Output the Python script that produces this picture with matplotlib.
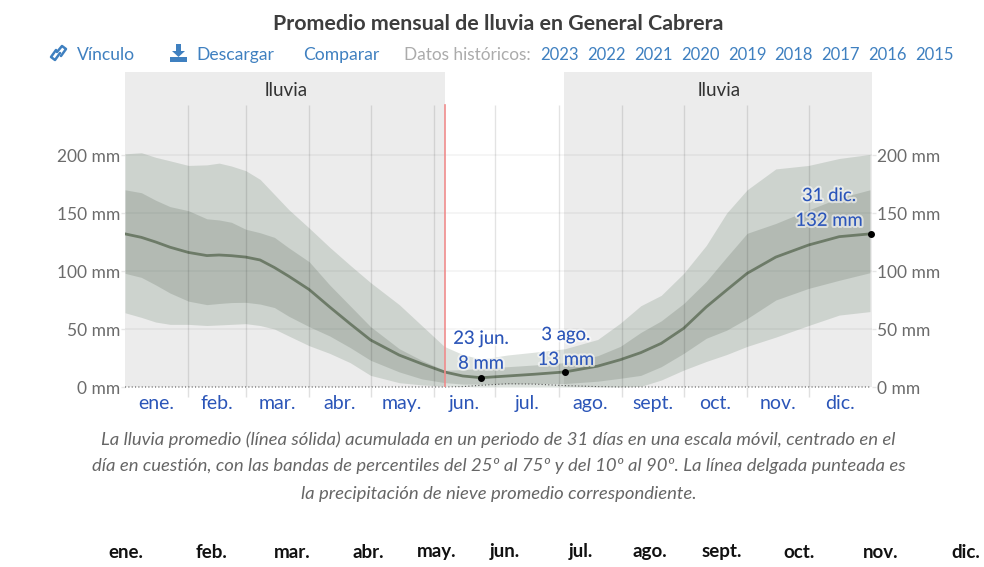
#!/usr/local/bin/python3
import matplotlib
matplotlib.use("Agg")
import matplotlib.pyplot as plt
import matplotlib.patheffects as pe
from matplotlib.patches import Polygon, Rectangle

plt.rcParams["font.family"] = ["Lato", "DejaVu Sans"]

title = "Promedio mensual de lluvia en General Cabrera"
months = ["ene.", "feb.", "mar.", "abr.", "may.", "jun.", "jul.", "ago.", "sept.", "oct.", "nov.", "dic."]
month_days = [31, 28, 31, 30, 31, 30, 31, 31, 30, 31, 30, 31]
y_ticks = [0, 50, 100, 150, 200]
years = ["2023", "2022", "2021", "2020", "2019", "2018", "2017", "2016", "2015"]

days = [0, 8, 15, 22, 31, 40, 46, 52, 59, 66, 73, 80, 90, 100, 110, 120, 134, 145, 156, 165, 174, 187,
        200, 215, 231, 242, 252, 262, 273, 284, 294, 304, 318, 334, 349, 364]
rain_mean = [132, 129, 125, 120.5, 116, 113.3, 113.8, 113.2, 112, 109.5, 103, 95.5, 84, 69, 54.5, 40.5, 27.5, 20,
             13, 9.5, 8, 9.5, 11, 13, 18, 23.5, 29.6, 37.6, 50.6, 69, 83.6, 98, 112, 122.4, 129.6, 132]
rain_p90 = [201, 202, 198, 195, 191, 191.5, 193, 190.5, 186.5, 179, 166, 153, 137, 120.5, 105, 90, 71, 53,
            35, 28, 24, 27.6, 30, 33, 41, 55, 70, 79, 98, 122, 150, 170, 188, 191, 197, 200.5]
rain_p75 = [170, 167.5, 161, 155.5, 152, 145, 144, 142, 136, 133, 129, 120, 108, 88, 70, 52, 33, 23,
            14.5, 15, 16, 17.5, 19, 21, 27, 35, 47, 57, 72, 91, 112, 132.5, 141, 152.6, 163, 170]
rain_p25 = [98, 94.5, 88, 81, 74, 71, 72, 72.8, 73, 71.5, 68.5, 61, 52, 44, 34, 23, 13, 7,
            3.8, 2.5, 2.5, 2.7, 3, 3, 5, 7.5, 10, 17.5, 29, 42, 49, 59, 75, 85, 92, 98.5]
rain_p10 = [64, 60, 56, 54, 54, 53, 53.5, 54, 54.6, 53, 50, 44, 35.6, 29, 21, 10, 3.7, 1.8,
            0.8, 0.3, 0, 0, 0, 0, 0, 0, 0.5, 6, 14.6, 22, 28, 35, 43, 53, 62, 65]
snow = [0, 0, 0, 0, 0, 0, 0, 0, 0, 0, 0, 0, 0, 0, 0, 0, 0, 0,
        0, 0.3, 1.5, 2.8, 2.5, 1.2, 0.3, 0, 0, 0, 0, 0, 0, 0, 0, 0, 0, 0]

today = 156.2
season_spans = [(0, 156.4), (214.6, 365)]
marked_days = [174, 215, 364.6]
marked_vals = [8, 13, 132]
marked_text = ["23 jun.\n8 mm", "3 ago.\n13 mm", "31 dic.\n132 mm"]
marked_offset = [(0, 6), (1, 4), (-42, 5)]

blue = "#2b55b8"
link = "#3f80c0"
grey_text = "#6b6b6b"

fig = plt.figure(figsize=(9.84, 5.67), dpi=100)
ax = fig.add_axes([125 / 984, 1 - 387 / 567, 747 / 984, 315 / 567])
ax.set_xlim(0, 365)
ax.set_ylim(0, 315 / 1.16)
for s in ax.spines.values():
    s.set_visible(False)

for a, b in season_spans:
    ax.axvspan(a, b, color="#ececec", lw=0, zorder=0)
for v in y_ticks[1:]:
    ax.axhline(v, color="#000000", alpha=0.04, lw=1.5, zorder=1)

ax.fill_between(days, rain_p10, rain_p90, color="#55705a", alpha=0.2, lw=0, zorder=2)
ax.fill_between(days, rain_p25, rain_p75, color="#4b5a4b", alpha=0.2, lw=0, zorder=3)
ax.plot(days, rain_mean, color="#6d7b68", lw=2, zorder=4)
ax.plot(days, snow, color="#555555", lw=0.8, ls=(0, (1, 2)), clip_on=False, zorder=4)

ends = [sum(month_days[:i + 1]) for i in range(11)]
mids = [sum(month_days[:i]) + month_days[i] / 2 for i in range(12)]
ax.vlines(ends, 0, 243, color="#000000", alpha=0.11, lw=1, zorder=5)
ax.set_xticks(ends)
ax.set_xticklabels([])
ax.tick_params(axis="x", which="major", length=7, width=1, color="#e0e0e0")
ax.set_xticks(mids, minor=True)
ax.set_xticklabels(months, minor=True, fontsize=14, color=blue)
ax.tick_params(axis="x", which="minor", length=0, pad=6)

ax.set_yticks(y_ticks)
ax.set_yticklabels([f"{v} mm" for v in y_ticks], fontsize=12.5, color=grey_text)
ax.tick_params(axis="y", left=True, right=True, labelright=True, length=3, width=1, color="#e6e6e6", pad=0.5)

ax.axvline(today, ymax=243 / (315 / 1.16), color="#f08c8c", lw=1.2, zorder=6)
ax.scatter(marked_days, marked_vals, s=16, color="black", zorder=7, clip_on=False)
for d, v, t, off in zip(marked_days, marked_vals, marked_text, marked_offset):
    ax.annotate(t, (d, v), xytext=off, textcoords="offset pixels", ha="center", va="bottom", fontsize=13.3,
                color=blue, linespacing=1.68, zorder=8,
                path_effects=[pe.withStroke(linewidth=3, foreground=(1, 1, 1, 0.55))])

# page furniture, placed in pixels
page = fig.add_axes([0, 0, 1, 1], facecolor="none")
page.set_xlim(0, 984)
page.set_ylim(567, 0)
page.axis("off")

page.text(498.5, 23.5, title, ha="center", va="center", fontsize=15.4, fontweight="bold", color="#3d3d3d")

page.plot([57, 62, 66, 61], [52, 46, 49, 56], color=link, lw=1.8, solid_capstyle="round")
page.plot([60, 55, 51, 56], [53, 60, 57, 50], color=link, lw=1.8, solid_capstyle="round")
page.add_patch(Polygon([(176, 44), (181, 44), (181, 51), (185, 51), (178.5, 57), (172, 51), (176, 51)], color=link, lw=0))
page.add_patch(Rectangle((170, 57), 17, 5, color=link, lw=0))

for x, t in [(77, "Vínculo"), (196, "Descargar"), (303, "Comparar")]:
    page.text(x, 55, t, ha="left", va="center", fontsize=12.6, color=link)
page.text(404, 55, "Datos históricos:", ha="left", va="center", fontsize=12.4, color="#ababab")
for x, t in zip([540, 587, 634, 681, 728, 774, 821, 868, 915], years):
    page.text(x, 55, t, ha="left", va="center", fontsize=12, color=link)

for x in [286, 719]:
    page.text(x, 90, "lluvia", ha="center", va="center", fontsize=13.6, color="#333333")

caption = [
    "La lluvia promedio (línea sólida) acumulada en un periodo de 31 días en una escala móvil, centrado en el",
    "día en cuestión, con las bandas de percentiles del 25º al 75º y del 10º al 90º. La línea delgada punteada es",
    "la precipitación de nieve promedio correspondiente.",
]
for y, t in zip([439.5, 466.5, 493.5], caption):
    page.text(498.5, y, t, ha="center", va="center", fontsize=13.3, style="italic", color="#666666")

for x, t in zip([126, 211, 292, 368, 437, 505, 581, 650, 722, 799, 881, 966], months):
    page.text(x, 552, t, ha="center", va="center", fontsize=13.5, fontweight="bold", color="#111111")

fig.savefig("out.png", dpi=100)
